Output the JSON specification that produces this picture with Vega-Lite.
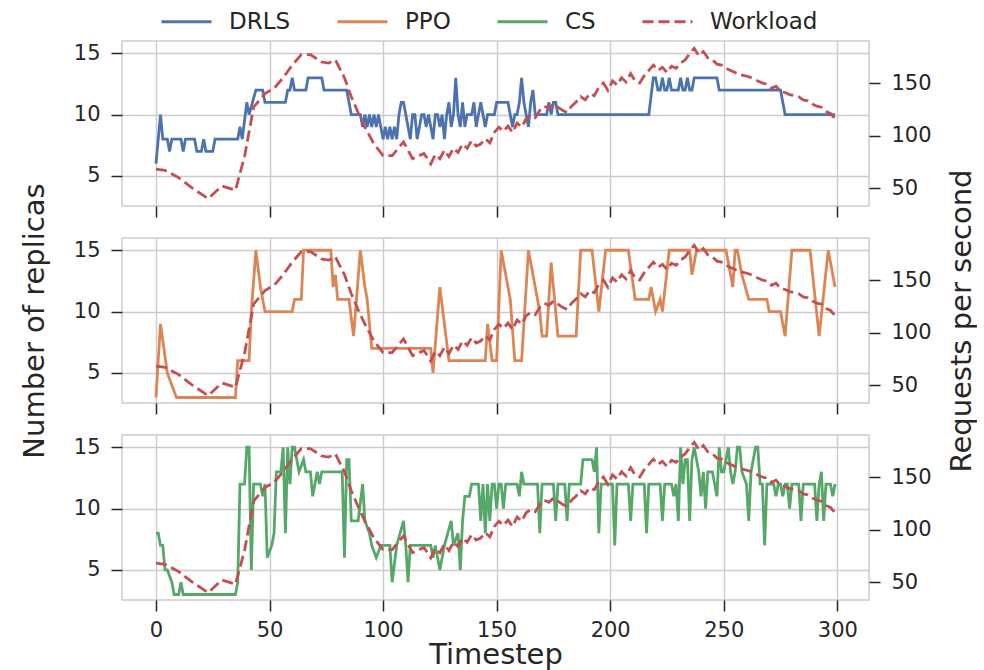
{
"$schema": "https://vega.github.io/schema/vega-lite/v6.json",
"padding": {"left": 19, "top": 10, "right": 0, "bottom": 0},
"spacing": 32,
"bounds": "flush",
"datasets": {
"drls": [
{"t":0,"replicas":6,"series":"DRLS"},{"t":2,"replicas":10,"series":"DRLS"},{"t":3,"replicas":8,"series":"DRLS"},{"t":5,"replicas":8,"series":"DRLS"},{"t":6,"replicas":7,"series":"DRLS"},{"t":7,"replicas":8,"series":"DRLS"},{"t":11,"replicas":8,"series":"DRLS"},{"t":12,"replicas":7,"series":"DRLS"},{"t":13,"replicas":8,"series":"DRLS"},{"t":17,"replicas":8,"series":"DRLS"},{"t":18,"replicas":7,"series":"DRLS"},{"t":20,"replicas":7,"series":"DRLS"},{"t":21,"replicas":8,"series":"DRLS"},{"t":22,"replicas":7,"series":"DRLS"},{"t":25,"replicas":7,"series":"DRLS"},{"t":26,"replicas":8,"series":"DRLS"},{"t":36,"replicas":8,"series":"DRLS"},{"t":37,"replicas":9,"series":"DRLS"},{"t":38,"replicas":8,"series":"DRLS"},{"t":40,"replicas":11,"series":"DRLS"},{"t":41,"replicas":10,"series":"DRLS"},{"t":44,"replicas":12,"series":"DRLS"},{"t":47,"replicas":12,"series":"DRLS"},{"t":48,"replicas":11,"series":"DRLS"},{"t":57,"replicas":11,"series":"DRLS"},{"t":58,"replicas":12,"series":"DRLS"},{"t":59,"replicas":12,"series":"DRLS"},{"t":60,"replicas":13,"series":"DRLS"},{"t":61,"replicas":12,"series":"DRLS"},{"t":66,"replicas":12,"series":"DRLS"},{"t":67,"replicas":13,"series":"DRLS"},{"t":73,"replicas":13,"series":"DRLS"},{"t":74,"replicas":12,"series":"DRLS"},{"t":84,"replicas":12,"series":"DRLS"},{"t":86,"replicas":10,"series":"DRLS"},{"t":90,"replicas":10,"series":"DRLS"},{"t":91,"replicas":9,"series":"DRLS"},{"t":92,"replicas":10,"series":"DRLS"},{"t":93,"replicas":9,"series":"DRLS"},{"t":94,"replicas":10,"series":"DRLS"},{"t":95,"replicas":9,"series":"DRLS"},{"t":96,"replicas":10,"series":"DRLS"},{"t":97,"replicas":9,"series":"DRLS"},{"t":98,"replicas":10,"series":"DRLS"},{"t":99,"replicas":9,"series":"DRLS"},{"t":100,"replicas":8,"series":"DRLS"},{"t":101,"replicas":9,"series":"DRLS"},{"t":102,"replicas":8,"series":"DRLS"},{"t":103,"replicas":9,"series":"DRLS"},{"t":104,"replicas":8,"series":"DRLS"},{"t":105,"replicas":9,"series":"DRLS"},{"t":106,"replicas":8,"series":"DRLS"},{"t":107,"replicas":10,"series":"DRLS"},{"t":108,"replicas":11,"series":"DRLS"},{"t":109,"replicas":11,"series":"DRLS"},{"t":110,"replicas":10,"series":"DRLS"},{"t":111,"replicas":9,"series":"DRLS"},{"t":112,"replicas":8,"series":"DRLS"},{"t":113,"replicas":10,"series":"DRLS"},{"t":114,"replicas":10,"series":"DRLS"},{"t":115,"replicas":8,"series":"DRLS"},{"t":116,"replicas":9,"series":"DRLS"},{"t":117,"replicas":10,"series":"DRLS"},{"t":118,"replicas":10,"series":"DRLS"},{"t":119,"replicas":9,"series":"DRLS"},{"t":120,"replicas":10,"series":"DRLS"},{"t":121,"replicas":9,"series":"DRLS"},{"t":122,"replicas":8,"series":"DRLS"},{"t":123,"replicas":10,"series":"DRLS"},{"t":124,"replicas":10,"series":"DRLS"},{"t":125,"replicas":9,"series":"DRLS"},{"t":126,"replicas":10,"series":"DRLS"},{"t":127,"replicas":8,"series":"DRLS"},{"t":128,"replicas":10,"series":"DRLS"},{"t":129,"replicas":11,"series":"DRLS"},{"t":130,"replicas":9,"series":"DRLS"},{"t":131,"replicas":10,"series":"DRLS"},{"t":132,"replicas":13,"series":"DRLS"},{"t":133,"replicas":10,"series":"DRLS"},{"t":134,"replicas":9,"series":"DRLS"},{"t":135,"replicas":11,"series":"DRLS"},{"t":136,"replicas":9,"series":"DRLS"},{"t":137,"replicas":10,"series":"DRLS"},{"t":139,"replicas":10,"series":"DRLS"},{"t":140,"replicas":11,"series":"DRLS"},{"t":141,"replicas":9,"series":"DRLS"},{"t":142,"replicas":10,"series":"DRLS"},{"t":143,"replicas":11,"series":"DRLS"},{"t":144,"replicas":10,"series":"DRLS"},{"t":145,"replicas":9,"series":"DRLS"},{"t":146,"replicas":10,"series":"DRLS"},{"t":149,"replicas":10,"series":"DRLS"},{"t":150,"replicas":11,"series":"DRLS"},{"t":155,"replicas":11,"series":"DRLS"},{"t":156,"replicas":10,"series":"DRLS"},{"t":157,"replicas":9,"series":"DRLS"},{"t":158,"replicas":10,"series":"DRLS"},{"t":159,"replicas":10,"series":"DRLS"},{"t":160,"replicas":11,"series":"DRLS"},{"t":161,"replicas":13,"series":"DRLS"},{"t":162,"replicas":11,"series":"DRLS"},{"t":163,"replicas":10,"series":"DRLS"},{"t":164,"replicas":9,"series":"DRLS"},{"t":165,"replicas":11,"series":"DRLS"},{"t":166,"replicas":12,"series":"DRLS"},{"t":167,"replicas":10,"series":"DRLS"},{"t":172,"replicas":10,"series":"DRLS"},{"t":173,"replicas":11,"series":"DRLS"},{"t":174,"replicas":10,"series":"DRLS"},{"t":175,"replicas":11,"series":"DRLS"},{"t":176,"replicas":11,"series":"DRLS"},{"t":177,"replicas":10,"series":"DRLS"},{"t":217,"replicas":10,"series":"DRLS"},{"t":219,"replicas":13,"series":"DRLS"},{"t":220,"replicas":13,"series":"DRLS"},{"t":221,"replicas":12,"series":"DRLS"},{"t":222,"replicas":12,"series":"DRLS"},{"t":223,"replicas":13,"series":"DRLS"},{"t":224,"replicas":12,"series":"DRLS"},{"t":225,"replicas":12,"series":"DRLS"},{"t":226,"replicas":13,"series":"DRLS"},{"t":227,"replicas":12,"series":"DRLS"},{"t":230,"replicas":12,"series":"DRLS"},{"t":231,"replicas":13,"series":"DRLS"},{"t":232,"replicas":12,"series":"DRLS"},{"t":233,"replicas":12,"series":"DRLS"},{"t":234,"replicas":13,"series":"DRLS"},{"t":235,"replicas":12,"series":"DRLS"},{"t":236,"replicas":12,"series":"DRLS"},{"t":237,"replicas":13,"series":"DRLS"},{"t":247,"replicas":13,"series":"DRLS"},{"t":248,"replicas":12,"series":"DRLS"},{"t":275,"replicas":12,"series":"DRLS"},{"t":277,"replicas":10,"series":"DRLS"},{"t":299,"replicas":10,"series":"DRLS"}
],
"ppo": [
{"t":0,"replicas":3,"series":"PPO"},{"t":2,"replicas":9,"series":"PPO"},{"t":5,"replicas":5,"series":"PPO"},{"t":9,"replicas":3,"series":"PPO"},{"t":35,"replicas":3,"series":"PPO"},{"t":36,"replicas":6,"series":"PPO"},{"t":41,"replicas":6,"series":"PPO"},{"t":42,"replicas":10,"series":"PPO"},{"t":44,"replicas":15,"series":"PPO"},{"t":46,"replicas":12,"series":"PPO"},{"t":48,"replicas":10,"series":"PPO"},{"t":60,"replicas":10,"series":"PPO"},{"t":61,"replicas":11,"series":"PPO"},{"t":64,"replicas":11,"series":"PPO"},{"t":65,"replicas":15,"series":"PPO"},{"t":77,"replicas":15,"series":"PPO"},{"t":78,"replicas":12,"series":"PPO"},{"t":79,"replicas":13,"series":"PPO"},{"t":80,"replicas":11,"series":"PPO"},{"t":85,"replicas":11,"series":"PPO"},{"t":87,"replicas":8,"series":"PPO"},{"t":90,"replicas":15,"series":"PPO"},{"t":92,"replicas":12,"series":"PPO"},{"t":93,"replicas":11,"series":"PPO"},{"t":95,"replicas":7,"series":"PPO"},{"t":121,"replicas":7,"series":"PPO"},{"t":122,"replicas":5,"series":"PPO"},{"t":125,"replicas":12,"series":"PPO"},{"t":127,"replicas":9,"series":"PPO"},{"t":129,"replicas":6,"series":"PPO"},{"t":145,"replicas":6,"series":"PPO"},{"t":146,"replicas":9,"series":"PPO"},{"t":148,"replicas":6,"series":"PPO"},{"t":150,"replicas":6,"series":"PPO"},{"t":152,"replicas":15,"series":"PPO"},{"t":156,"replicas":11,"series":"PPO"},{"t":158,"replicas":6,"series":"PPO"},{"t":161,"replicas":6,"series":"PPO"},{"t":164,"replicas":15,"series":"PPO"},{"t":167,"replicas":12,"series":"PPO"},{"t":169,"replicas":10,"series":"PPO"},{"t":170,"replicas":8,"series":"PPO"},{"t":172,"replicas":8,"series":"PPO"},{"t":174,"replicas":14,"series":"PPO"},{"t":177,"replicas":8,"series":"PPO"},{"t":185,"replicas":8,"series":"PPO"},{"t":187,"replicas":15,"series":"PPO"},{"t":192,"replicas":15,"series":"PPO"},{"t":195,"replicas":10,"series":"PPO"},{"t":198,"replicas":15,"series":"PPO"},{"t":208,"replicas":15,"series":"PPO"},{"t":211,"replicas":11,"series":"PPO"},{"t":217,"replicas":11,"series":"PPO"},{"t":218,"replicas":12,"series":"PPO"},{"t":220,"replicas":10,"series":"PPO"},{"t":222,"replicas":11,"series":"PPO"},{"t":223,"replicas":10,"series":"PPO"},{"t":226,"replicas":15,"series":"PPO"},{"t":235,"replicas":15,"series":"PPO"},{"t":236,"replicas":13,"series":"PPO"},{"t":238,"replicas":15,"series":"PPO"},{"t":251,"replicas":15,"series":"PPO"},{"t":254,"replicas":12,"series":"PPO"},{"t":255,"replicas":15,"series":"PPO"},{"t":256,"replicas":15,"series":"PPO"},{"t":258,"replicas":13,"series":"PPO"},{"t":261,"replicas":11,"series":"PPO"},{"t":269,"replicas":11,"series":"PPO"},{"t":270,"replicas":10,"series":"PPO"},{"t":275,"replicas":10,"series":"PPO"},{"t":277,"replicas":8,"series":"PPO"},{"t":280,"replicas":15,"series":"PPO"},{"t":288,"replicas":15,"series":"PPO"},{"t":292,"replicas":8,"series":"PPO"},{"t":296,"replicas":15,"series":"PPO"},{"t":299,"replicas":12,"series":"PPO"}
],
"cs": [
{"t":0,"replicas":8,"series":"CS"},{"t":1,"replicas":8,"series":"CS"},{"t":2,"replicas":7,"series":"CS"},{"t":3,"replicas":7,"series":"CS"},{"t":4,"replicas":5,"series":"CS"},{"t":5,"replicas":5,"series":"CS"},{"t":7,"replicas":4,"series":"CS"},{"t":8,"replicas":3,"series":"CS"},{"t":10,"replicas":3,"series":"CS"},{"t":11,"replicas":4,"series":"CS"},{"t":12,"replicas":3,"series":"CS"},{"t":35,"replicas":3,"series":"CS"},{"t":36,"replicas":4,"series":"CS"},{"t":37,"replicas":12,"series":"CS"},{"t":39,"replicas":12,"series":"CS"},{"t":40,"replicas":15,"series":"CS"},{"t":41,"replicas":15,"series":"CS"},{"t":42,"replicas":5,"series":"CS"},{"t":43,"replicas":12,"series":"CS"},{"t":46,"replicas":12,"series":"CS"},{"t":47,"replicas":11,"series":"CS"},{"t":48,"replicas":12,"series":"CS"},{"t":49,"replicas":6,"series":"CS"},{"t":51,"replicas":7,"series":"CS"},{"t":52,"replicas":8,"series":"CS"},{"t":53,"replicas":13,"series":"CS"},{"t":55,"replicas":13,"series":"CS"},{"t":56,"replicas":15,"series":"CS"},{"t":57,"replicas":8,"series":"CS"},{"t":58,"replicas":15,"series":"CS"},{"t":59,"replicas":12,"series":"CS"},{"t":60,"replicas":15,"series":"CS"},{"t":61,"replicas":15,"series":"CS"},{"t":63,"replicas":13,"series":"CS"},{"t":65,"replicas":14,"series":"CS"},{"t":66,"replicas":13,"series":"CS"},{"t":68,"replicas":13,"series":"CS"},{"t":69,"replicas":11,"series":"CS"},{"t":71,"replicas":13,"series":"CS"},{"t":72,"replicas":12,"series":"CS"},{"t":73,"replicas":13,"series":"CS"},{"t":82,"replicas":13,"series":"CS"},{"t":83,"replicas":6,"series":"CS"},{"t":84,"replicas":14,"series":"CS"},{"t":85,"replicas":14,"series":"CS"},{"t":86,"replicas":9,"series":"CS"},{"t":89,"replicas":9,"series":"CS"},{"t":91,"replicas":12,"series":"CS"},{"t":92,"replicas":9,"series":"CS"},{"t":94,"replicas":8,"series":"CS"},{"t":95,"replicas":7,"series":"CS"},{"t":97,"replicas":6,"series":"CS"},{"t":99,"replicas":7,"series":"CS"},{"t":103,"replicas":7,"series":"CS"},{"t":104,"replicas":4,"series":"CS"},{"t":106,"replicas":7,"series":"CS"},{"t":109,"replicas":9,"series":"CS"},{"t":110,"replicas":7,"series":"CS"},{"t":111,"replicas":4,"series":"CS"},{"t":112,"replicas":7,"series":"CS"},{"t":121,"replicas":7,"series":"CS"},{"t":122,"replicas":6,"series":"CS"},{"t":123,"replicas":7,"series":"CS"},{"t":125,"replicas":5,"series":"CS"},{"t":127,"replicas":7,"series":"CS"},{"t":130,"replicas":9,"series":"CS"},{"t":131,"replicas":7,"series":"CS"},{"t":133,"replicas":8,"series":"CS"},{"t":134,"replicas":5,"series":"CS"},{"t":135,"replicas":9,"series":"CS"},{"t":136,"replicas":11,"series":"CS"},{"t":138,"replicas":11,"series":"CS"},{"t":139,"replicas":12,"series":"CS"},{"t":142,"replicas":12,"series":"CS"},{"t":143,"replicas":9,"series":"CS"},{"t":144,"replicas":12,"series":"CS"},{"t":145,"replicas":8,"series":"CS"},{"t":146,"replicas":12,"series":"CS"},{"t":147,"replicas":9,"series":"CS"},{"t":148,"replicas":12,"series":"CS"},{"t":149,"replicas":12,"series":"CS"},{"t":150,"replicas":10,"series":"CS"},{"t":151,"replicas":12,"series":"CS"},{"t":152,"replicas":12,"series":"CS"},{"t":153,"replicas":10,"series":"CS"},{"t":154,"replicas":12,"series":"CS"},{"t":159,"replicas":12,"series":"CS"},{"t":160,"replicas":11,"series":"CS"},{"t":161,"replicas":13,"series":"CS"},{"t":162,"replicas":12,"series":"CS"},{"t":168,"replicas":12,"series":"CS"},{"t":169,"replicas":8,"series":"CS"},{"t":170,"replicas":12,"series":"CS"},{"t":175,"replicas":12,"series":"CS"},{"t":176,"replicas":9,"series":"CS"},{"t":177,"replicas":12,"series":"CS"},{"t":180,"replicas":12,"series":"CS"},{"t":181,"replicas":9,"series":"CS"},{"t":182,"replicas":12,"series":"CS"},{"t":187,"replicas":12,"series":"CS"},{"t":188,"replicas":14,"series":"CS"},{"t":192,"replicas":14,"series":"CS"},{"t":193,"replicas":13,"series":"CS"},{"t":194,"replicas":15,"series":"CS"},{"t":195,"replicas":8,"series":"CS"},{"t":196,"replicas":12,"series":"CS"},{"t":201,"replicas":12,"series":"CS"},{"t":202,"replicas":7,"series":"CS"},{"t":203,"replicas":12,"series":"CS"},{"t":208,"replicas":12,"series":"CS"},{"t":209,"replicas":9,"series":"CS"},{"t":210,"replicas":12,"series":"CS"},{"t":215,"replicas":12,"series":"CS"},{"t":216,"replicas":8,"series":"CS"},{"t":217,"replicas":12,"series":"CS"},{"t":222,"replicas":12,"series":"CS"},{"t":223,"replicas":9,"series":"CS"},{"t":224,"replicas":12,"series":"CS"},{"t":227,"replicas":12,"series":"CS"},{"t":228,"replicas":11,"series":"CS"},{"t":229,"replicas":12,"series":"CS"},{"t":230,"replicas":9,"series":"CS"},{"t":231,"replicas":15,"series":"CS"},{"t":232,"replicas":12,"series":"CS"},{"t":233,"replicas":14,"series":"CS"},{"t":234,"replicas":14,"series":"CS"},{"t":235,"replicas":9,"series":"CS"},{"t":236,"replicas":14,"series":"CS"},{"t":237,"replicas":15,"series":"CS"},{"t":238,"replicas":14,"series":"CS"},{"t":239,"replicas":13,"series":"CS"},{"t":240,"replicas":11,"series":"CS"},{"t":241,"replicas":13,"series":"CS"},{"t":242,"replicas":10,"series":"CS"},{"t":243,"replicas":13,"series":"CS"},{"t":245,"replicas":13,"series":"CS"},{"t":246,"replicas":12,"series":"CS"},{"t":247,"replicas":11,"series":"CS"},{"t":248,"replicas":15,"series":"CS"},{"t":249,"replicas":13,"series":"CS"},{"t":250,"replicas":13,"series":"CS"},{"t":252,"replicas":15,"series":"CS"},{"t":253,"replicas":13,"series":"CS"},{"t":254,"replicas":12,"series":"CS"},{"t":255,"replicas":13,"series":"CS"},{"t":256,"replicas":15,"series":"CS"},{"t":257,"replicas":15,"series":"CS"},{"t":258,"replicas":13,"series":"CS"},{"t":260,"replicas":12,"series":"CS"},{"t":261,"replicas":9,"series":"CS"},{"t":262,"replicas":13,"series":"CS"},{"t":264,"replicas":15,"series":"CS"},{"t":265,"replicas":15,"series":"CS"},{"t":266,"replicas":12,"series":"CS"},{"t":267,"replicas":12,"series":"CS"},{"t":268,"replicas":7,"series":"CS"},{"t":269,"replicas":12,"series":"CS"},{"t":272,"replicas":12,"series":"CS"},{"t":273,"replicas":11,"series":"CS"},{"t":274,"replicas":12,"series":"CS"},{"t":275,"replicas":12,"series":"CS"},{"t":276,"replicas":11,"series":"CS"},{"t":277,"replicas":12,"series":"CS"},{"t":278,"replicas":12,"series":"CS"},{"t":279,"replicas":10,"series":"CS"},{"t":280,"replicas":12,"series":"CS"},{"t":283,"replicas":12,"series":"CS"},{"t":284,"replicas":9,"series":"CS"},{"t":285,"replicas":12,"series":"CS"},{"t":290,"replicas":12,"series":"CS"},{"t":291,"replicas":9,"series":"CS"},{"t":292,"replicas":12,"series":"CS"},{"t":293,"replicas":13,"series":"CS"},{"t":294,"replicas":9,"series":"CS"},{"t":295,"replicas":12,"series":"CS"},{"t":297,"replicas":12,"series":"CS"},{"t":298,"replicas":11,"series":"CS"},{"t":299,"replicas":12,"series":"CS"}
],
"workload": [
{"t":0,"rps":68,"series":"Workload"},{"t":4,"rps":67,"series":"Workload"},{"t":10,"rps":60,"series":"Workload"},{"t":16,"rps":50,"series":"Workload"},{"t":23,"rps":40,"series":"Workload"},{"t":29,"rps":52,"series":"Workload"},{"t":35,"rps":48,"series":"Workload"},{"t":39,"rps":80,"series":"Workload"},{"t":43,"rps":127,"series":"Workload"},{"t":48,"rps":140,"series":"Workload"},{"t":52,"rps":145,"series":"Workload"},{"t":56,"rps":155,"series":"Workload"},{"t":60,"rps":167,"series":"Workload"},{"t":64,"rps":177,"series":"Workload"},{"t":68,"rps":177,"series":"Workload"},{"t":73,"rps":170,"series":"Workload"},{"t":76,"rps":169,"series":"Workload"},{"t":79,"rps":172,"series":"Workload"},{"t":83,"rps":155,"series":"Workload"},{"t":86,"rps":137,"series":"Workload"},{"t":89,"rps":122,"series":"Workload"},{"t":92,"rps":108,"series":"Workload"},{"t":96,"rps":92,"series":"Workload"},{"t":100,"rps":81,"series":"Workload"},{"t":104,"rps":81,"series":"Workload"},{"t":109,"rps":94,"series":"Workload"},{"t":113,"rps":78,"series":"Workload"},{"t":118,"rps":83,"series":"Workload"},{"t":121,"rps":73,"series":"Workload"},{"t":123,"rps":82,"series":"Workload"},{"t":125,"rps":78,"series":"Workload"},{"t":127,"rps":86,"series":"Workload"},{"t":129,"rps":80,"series":"Workload"},{"t":131,"rps":88,"series":"Workload"},{"t":133,"rps":84,"series":"Workload"},{"t":135,"rps":92,"series":"Workload"},{"t":137,"rps":88,"series":"Workload"},{"t":139,"rps":95,"series":"Workload"},{"t":141,"rps":90,"series":"Workload"},{"t":143,"rps":92,"series":"Workload"},{"t":145,"rps":97,"series":"Workload"},{"t":147,"rps":93,"series":"Workload"},{"t":149,"rps":103,"series":"Workload"},{"t":151,"rps":108,"series":"Workload"},{"t":153,"rps":104,"series":"Workload"},{"t":155,"rps":109,"series":"Workload"},{"t":157,"rps":103,"series":"Workload"},{"t":159,"rps":112,"series":"Workload"},{"t":161,"rps":108,"series":"Workload"},{"t":163,"rps":116,"series":"Workload"},{"t":165,"rps":119,"series":"Workload"},{"t":167,"rps":117,"series":"Workload"},{"t":169,"rps":124,"series":"Workload"},{"t":171,"rps":128,"series":"Workload"},{"t":173,"rps":126,"series":"Workload"},{"t":175,"rps":130,"series":"Workload"},{"t":177,"rps":127,"series":"Workload"},{"t":179,"rps":124,"series":"Workload"},{"t":181,"rps":122,"series":"Workload"},{"t":183,"rps":128,"series":"Workload"},{"t":185,"rps":132,"series":"Workload"},{"t":187,"rps":137,"series":"Workload"},{"t":189,"rps":134,"series":"Workload"},{"t":191,"rps":140,"series":"Workload"},{"t":193,"rps":138,"series":"Workload"},{"t":195,"rps":146,"series":"Workload"},{"t":197,"rps":150,"series":"Workload"},{"t":199,"rps":143,"series":"Workload"},{"t":201,"rps":152,"series":"Workload"},{"t":203,"rps":148,"series":"Workload"},{"t":205,"rps":155,"series":"Workload"},{"t":207,"rps":151,"series":"Workload"},{"t":209,"rps":159,"series":"Workload"},{"t":211,"rps":152,"series":"Workload"},{"t":213,"rps":150,"series":"Workload"},{"t":215,"rps":157,"series":"Workload"},{"t":217,"rps":162,"series":"Workload"},{"t":219,"rps":167,"series":"Workload"},{"t":221,"rps":162,"series":"Workload"},{"t":223,"rps":165,"series":"Workload"},{"t":225,"rps":160,"series":"Workload"},{"t":227,"rps":166,"series":"Workload"},{"t":229,"rps":164,"series":"Workload"},{"t":231,"rps":169,"series":"Workload"},{"t":233,"rps":172,"series":"Workload"},{"t":235,"rps":178,"series":"Workload"},{"t":237,"rps":183,"series":"Workload"},{"t":239,"rps":176,"series":"Workload"},{"t":241,"rps":180,"series":"Workload"},{"t":243,"rps":174,"series":"Workload"},{"t":245,"rps":172,"series":"Workload"},{"t":247,"rps":168,"series":"Workload"},{"t":249,"rps":167,"series":"Workload"},{"t":251,"rps":164,"series":"Workload"},{"t":253,"rps":162,"series":"Workload"},{"t":255,"rps":160,"series":"Workload"},{"t":257,"rps":158,"series":"Workload"},{"t":259,"rps":157,"series":"Workload"},{"t":261,"rps":156,"series":"Workload"},{"t":263,"rps":154,"series":"Workload"},{"t":265,"rps":152,"series":"Workload"},{"t":267,"rps":150,"series":"Workload"},{"t":269,"rps":149,"series":"Workload"},{"t":271,"rps":145,"series":"Workload"},{"t":273,"rps":147,"series":"Workload"},{"t":275,"rps":142,"series":"Workload"},{"t":277,"rps":141,"series":"Workload"},{"t":279,"rps":139,"series":"Workload"},{"t":281,"rps":138,"series":"Workload"},{"t":283,"rps":137,"series":"Workload"},{"t":285,"rps":134,"series":"Workload"},{"t":287,"rps":133,"series":"Workload"},{"t":289,"rps":130,"series":"Workload"},{"t":291,"rps":128,"series":"Workload"},{"t":293,"rps":127,"series":"Workload"},{"t":295,"rps":123,"series":"Workload"},{"t":297,"rps":121,"series":"Workload"},{"t":299,"rps":116,"series":"Workload"}
]
},
"vconcat": [
{
"width": 747, "height": 165,
"layer": [
{"data": {"name": "drls"}, "mark": {"type": "line", "strokeWidth": 2.8},
 "encoding": {
  "x": {"field": "t", "type": "quantitative", "scale": {"domain": [-14.95, 313.95], "nice": false, "zero": false}, "axis": {"values": [0,50,100,150,200,250,300], "labels": false, "title": null}},
  "y": {"field": "replicas", "type": "quantitative", "scale": {"domain": [2.55, 16.0], "nice": false, "zero": false}, "axis": {"values": [5,10,15], "title": null}},
  "color": {"field": "series", "type": "nominal", "scale": {"domain": ["DRLS","PPO","CS","Workload"], "range": ["#4c72b0","#dd8452","#55a868","#c44e52"]}, "legend": {"title": null, "orient": "none", "direction": "horizontal", "legendX": 68, "legendY": -31}},
  "strokeDash": {"field": "series", "type": "nominal", "scale": {"domain": ["DRLS","PPO","CS","Workload"], "range": [[1,0],[1,0],[1,0],[11,5]]}, "legend": {"title": null, "orient": "none", "direction": "horizontal", "legendX": 68, "legendY": -31}}
 }},
{"data": {"name": "workload"}, "mark": {"type": "line", "strokeWidth": 2.8},
 "encoding": {
  "x": {"field": "t", "type": "quantitative", "scale": {"domain": [-14.95, 313.95], "nice": false, "zero": false}, "axis": {"values": [0,50,100,150,200,250,300], "labels": false, "title": null}},
  "y": {"field": "rps", "type": "quantitative", "scale": {"domain": [33, 190], "nice": false, "zero": false}, "axis": {"orient": "right", "values": [50,100,150], "grid": false, "title": null}},
  "color": {"field": "series", "type": "nominal"},
  "strokeDash": {"field": "series", "type": "nominal"}
 }}
],
"resolve": {"scale": {"y": "independent"}}
},
{
"width": 747, "height": 165,
"layer": [
{"data": {"name": "ppo"}, "mark": {"type": "line", "strokeWidth": 2.8},
 "encoding": {
  "x": {"field": "t", "type": "quantitative", "scale": {"domain": [-14.95, 313.95], "nice": false, "zero": false}, "axis": {"values": [0,50,100,150,200,250,300], "labels": false, "title": null}},
  "y": {"field": "replicas", "type": "quantitative", "scale": {"domain": [2.55, 16.0], "nice": false, "zero": false}, "axis": {"values": [5,10,15], "title": "Number of replicas", "titlePadding": 24}},
  "color": {"field": "series", "type": "nominal"},
  "strokeDash": {"field": "series", "type": "nominal"}
 }},
{"data": {"name": "workload"}, "mark": {"type": "line", "strokeWidth": 2.8},
 "encoding": {
  "x": {"field": "t", "type": "quantitative", "scale": {"domain": [-14.95, 313.95], "nice": false, "zero": false}, "axis": {"values": [0,50,100,150,200,250,300], "labels": false, "title": null}},
  "y": {"field": "rps", "type": "quantitative", "scale": {"domain": [33, 190], "nice": false, "zero": false}, "axis": {"orient": "right", "values": [50,100,150], "grid": false, "title": "Requests per second", "titleAngle": 270, "titleBaseline": "top", "titlePadding": 16}},
  "color": {"field": "series", "type": "nominal"},
  "strokeDash": {"field": "series", "type": "nominal"}
 }}
],
"resolve": {"scale": {"y": "independent"}}
},
{
"width": 747, "height": 165,
"layer": [
{"data": {"name": "cs"}, "mark": {"type": "line", "strokeWidth": 2.8},
 "encoding": {
  "x": {"field": "t", "type": "quantitative", "scale": {"domain": [-14.95, 313.95], "nice": false, "zero": false}, "axis": {"values": [0,50,100,150,200,250,300], "title": "Timestep", "titlePadding": 0}},
  "y": {"field": "replicas", "type": "quantitative", "scale": {"domain": [2.55, 16.0], "nice": false, "zero": false}, "axis": {"values": [5,10,15], "title": null}},
  "color": {"field": "series", "type": "nominal"},
  "strokeDash": {"field": "series", "type": "nominal"}
 }},
{"data": {"name": "workload"}, "mark": {"type": "line", "strokeWidth": 2.8},
 "encoding": {
  "x": {"field": "t", "type": "quantitative", "scale": {"domain": [-14.95, 313.95], "nice": false, "zero": false}, "axis": {"values": [0,50,100,150,200,250,300], "title": "Timestep", "titlePadding": 0}},
  "y": {"field": "rps", "type": "quantitative", "scale": {"domain": [33, 190], "nice": false, "zero": false}, "axis": {"orient": "right", "values": [50,100,150], "grid": false, "title": null}},
  "color": {"field": "series", "type": "nominal"},
  "strokeDash": {"field": "series", "type": "nominal"}
 }}
],
"resolve": {"scale": {"y": "independent"}}
}
],
"config": {
 "font": "DejaVu Sans",
 "background": "white",
 "view": {"stroke": "#cccccc", "strokeWidth": 1.5},
 "axis": {"labelFont": "DejaVu Sans", "labelFontSize": 21, "labelColor": "#262626", "titleFont": "DejaVu Sans", "titleFontSize": 29, "titleColor": "#262626", "titleFontWeight": "normal", "tickColor": "#262626", "tickSize": 11, "tickWidth": 1.5, "gridColor": "#cccccc", "gridWidth": 1.5, "domain": false, "labelPadding": 8},
 "axisY": {"labelPadding": 11},
 "legend": {"labelFont": "DejaVu Sans", "labelFontSize": 23, "labelColor": "#262626", "symbolType": "M-4,0H1", "symbolSize": 400, "symbolStrokeWidth": 2.8, "labelOffset": 16, "columnPadding": 40, "padding": 0}
}
}
